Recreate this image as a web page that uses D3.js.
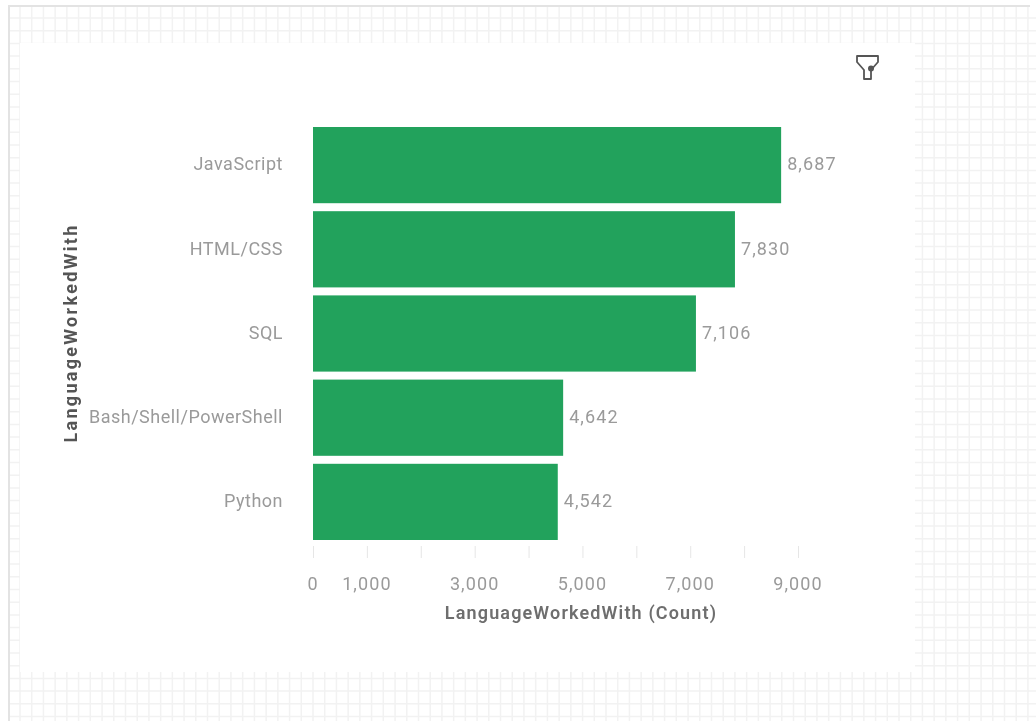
<!DOCTYPE html>
<html>
<head>
<meta charset="utf-8">
<script src="https://cdn.jsdelivr.net/npm/d3@7"></script>
<style>
    html, body { margin: 0; padding: 0; background: #fff; overflow: hidden; }
    text { font-family: Roboto, "Noto Sans", sans-serif; }
    .tickLabel { fill: #9a9a9a; font-size: 18px; }
    .xTick, .valueLabel { letter-spacing: 1.1px; }
    .yTick { letter-spacing: 0.5px; }
    .axisLabel { fill: #6e6e6e; font-size: 18px; font-weight: 600; letter-spacing: 1.15px; }
    .axis path { display: none; }
    .axis line { stroke: #e6e6e6; }
</style>
</head>
<body>
<div id="chart"></div>
<script>
const languages = ["JavaScript", "HTML/CSS", "SQL", "Bash/Shell/PowerShell", "Python"];
const counts = [8687, 7830, 7106, 4642, 4542];
const tickValues = [0, 1000, 2000, 3000, 4000, 5000, 6000, 7000, 8000, 9000];
const labelledTicks = [0, 1000, 3000, 5000, 7000, 9000];

const width = 1036;
const height = 721;
const panel = {left: 20, top: 43, right: 915, bottom: 672};

const svg = d3.select("#chart")
    .append("svg")
    .attr("width", width)
    .attr("height", height)
    .style("display", "block");

// soft look of the scaled screenshot
svg.append("filter").attr("id", "soft")
    .append("feGaussianBlur").attr("stdDeviation", 0.6);

const root = svg.append("g").attr("filter", "url(#soft)");

// background grid
const grid = root.append("g").attr("stroke", "#f2f2f2").attr("stroke-width", 1.5);
d3.range(20, width, 11.72).forEach(function(x) {
    grid.append("line").attr("x1", x).attr("x2", x).attr("y1", 6).attr("y2", height);
});
d3.range(18, height, 12.7).forEach(function(y) {
    grid.append("line").attr("x1", 9).attr("x2", width).attr("y1", y).attr("y2", y);
});

root.append("rect")
    .attr("x", panel.left)
    .attr("y", panel.top)
    .attr("width", panel.right-panel.left)
    .attr("height", panel.bottom-panel.top)
    .attr("fill", "#fff");

// outer frame, only top and left show
root.append("path")
    .attr("d", `M9,${height}V6H1030`)
    .attr("fill", "none")
    .attr("stroke", "#e3e3e3")
    .attr("stroke-width", 2);

const xScale = d3.scaleLinear()
    .domain([0, 9000])
    .range([313, 798]);
const yScale = d3.scaleBand()
    .domain(languages)
    .range([127, 540])
    .paddingInner(0.095);

const xAxis = root.append("g")
    .attr("class", "axis")
    .attr("transform", "translate(0,546)")
    .call(d3.axisBottom(xScale)
        .tickValues(tickValues)
        .tickSize(12)
        .tickFormat(""));

root.selectAll(".xTick")
    .data(labelledTicks)
    .enter()
    .append("text")
    .attr("class", "tickLabel xTick")
    .attr("x", function(d) { return xScale(d); })
    .attr("y", 590)
    .attr("text-anchor", "middle")
    .text(d3.format(","));

root.selectAll(".bar")
    .data(languages)
    .enter()
    .append("rect")
    .attr("class", "bar")
    .attr("x", xScale(0))
    .attr("y", function(d) { return yScale(d); })
    .attr("width", function(d, i) { return xScale(counts[i])-xScale(0); })
    .attr("height", yScale.bandwidth())
    .attr("fill", "#21a25c");

root.selectAll(".yTick")
    .data(languages)
    .enter()
    .append("text")
    .attr("class", "tickLabel yTick")
    .attr("x", 283)
    .attr("y", function(d) { return yScale(d)+yScale.bandwidth()/2-1; })
    .attr("dy", "0.35em")
    .attr("text-anchor", "end")
    .text(function(d) { return d; });

root.selectAll(".valueLabel")
    .data(counts)
    .enter()
    .append("text")
    .attr("class", "tickLabel valueLabel")
    .attr("x", function(d) { return xScale(d)+6; })
    .attr("y", function(d, i) { return yScale(languages[i])+yScale.bandwidth()/2-1; })
    .attr("dy", "0.35em")
    .text(d3.format(","));

root.append("text")
    .attr("class", "axisLabel")
    .attr("x", 581)
    .attr("y", 619)
    .attr("text-anchor", "middle")
    .text("LanguageWorkedWith (Count)");

root.append("text")
    .attr("class", "axisLabel")
    .attr("transform", "translate(77,333) rotate(-90)")
    .attr("text-anchor", "middle")
    .style("font-weight", 700)
    .style("fill", "#555")
    .style("letter-spacing", "2.3px")
    .text("LanguageWorkedWith");

// filter icon
const icon = root.append("g").attr("transform", "translate(856,55)");
icon.append("path")
    .attr("d", "M1,1H22V7L15,15V24H8V15L1,7Z")
    .attr("fill", "none")
    .attr("stroke", "#555")
    .attr("stroke-width", 1.8)
    .attr("stroke-linejoin", "round");
icon.append("circle")
    .attr("cx", 15)
    .attr("cy", 13.5)
    .attr("r", 3)
    .attr("fill", "#555");
</script>
</body>
</html>
